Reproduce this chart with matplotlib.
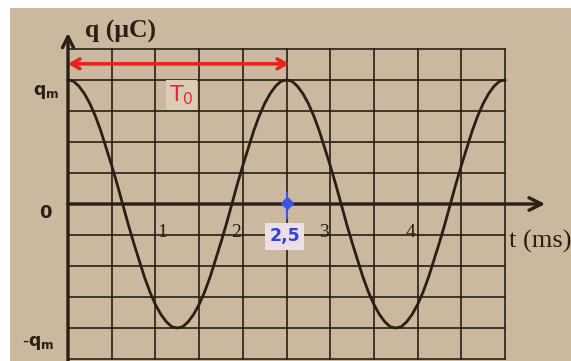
import matplotlib
matplotlib.use("Agg")
import matplotlib.pyplot as plt
from matplotlib.patches import Rectangle

plt.rcParams['mathtext.fontset'] = 'dejavusans'

# ---- data ----
T0 = 2.5            # period (ms)
t_marker = 2.5      # marked instant (ms)
t_grid = [0, 0.5, 1, 1.5, 2, 2.5, 3, 3.5, 4, 4.5, 5]
q_grid = [-1.25, -1.0, -0.75, -0.5, -0.25, 0, 0.25, 0.5, 0.75, 1.0, 1.25]
tick_vals = [1, 2, 3, 4]
tick_labels = ["1", "2", "3", "4"]
t_pts = [i * 0.0625 for i in range(81)]
q_pts = [1.00, 0.99, 0.95, 0.89, 0.81, 0.71, 0.59, 0.45, 0.31, 0.16,
         0.00, -0.16, -0.31, -0.45, -0.59, -0.71, -0.81, -0.89, -0.95, -0.99,
         -1.00, -0.99, -0.95, -0.89, -0.81, -0.71, -0.59, -0.45, -0.31, -0.16,
         0.00, 0.16, 0.31, 0.45, 0.59, 0.71, 0.81, 0.89, 0.95, 0.99,
         1.00, 0.99, 0.95, 0.89, 0.81, 0.71, 0.59, 0.45, 0.31, 0.16,
         0.00, -0.16, -0.31, -0.45, -0.59, -0.71, -0.81, -0.89, -0.95, -0.99,
         -1.00, -0.99, -0.95, -0.89, -0.81, -0.71, -0.59, -0.45, -0.31, -0.16,
         0.00, 0.16, 0.31, 0.45, 0.59, 0.71, 0.81, 0.89, 0.95, 0.99, 1.00]

ink = '#2a1f16'
paper = '#cab99f'

fig = plt.figure(figsize=(5.71, 3.61), dpi=100)
fig.patch.set_facecolor('white')
ax = fig.add_axes([0, 0, 1, 1])
ax.set_xlim(-0.778, 5.755)
ax.set_ylim(-1.266, 1.645)
ax.axis('off')

# paper background
ax.add_patch(Rectangle((-0.664, -1.3), 6.5, 2.88, facecolor=paper,
                       edgecolor='none', zorder=0))

# grid
for tg in t_grid:
    ax.plot([tg, tg], [q_grid[0], q_grid[-1]], color=ink, lw=1.2, zorder=1)
for qg in q_grid:
    ax.plot([t_grid[0], t_grid[-1]], [qg, qg], color=ink, lw=1.2, zorder=1)

# axes with arrows
ax.annotate('', xy=(5.46, 0), xytext=(0, 0),
            arrowprops=dict(arrowstyle='->,head_length=0.9,head_width=0.45',
                            color=ink, lw=2.4, shrinkA=0, shrinkB=0), zorder=2)
ax.annotate('', xy=(0, 1.38), xytext=(0, -1.27),
            arrowprops=dict(arrowstyle='->,head_length=0.8,head_width=0.4',
                            color=ink, lw=2.4, shrinkA=0, shrinkB=0), zorder=2)

# curve
ax.plot(t_pts, q_pts, color=ink, lw=2.0, zorder=3)

# labels
ax.text(0.19, 1.39, 'q (μC)', family='Liberation Serif', fontweight='bold',
        fontsize=18.5, color=ink, ha='left', va='center')
ax.text(-0.25, 0.90, r'$\mathbf{q_m}$', fontsize=12.5, color=ink,
        ha='center', va='center')
ax.text(-0.26, -0.07, '0', fontsize=13, fontweight='bold', color=ink,
        ha='center', va='center')
ax.text(-0.34, -1.12, r'-$\mathbf{q_m}$', fontsize=12.5, color=ink,
        ha='center', va='center')
for tv, tl in zip(tick_vals, tick_labels):
    if tv == 1:
        ax.text(tv + 0.02, -0.23, tl, family='Liberation Serif', fontsize=14,
                color=ink, ha='left', va='center')
    else:
        ax.text(tv - 0.02, -0.23, tl, family='Liberation Serif', fontsize=14,
                color=ink, ha='right', va='center')
ax.text(5.04, -0.30, 't (ms)', family='Liberation Serif', fontsize=19,
        color=ink, ha='left', va='center')

# period arrow
ax.annotate('', xy=(T0 + 0.03, 1.13), xytext=(0, 1.13),
            arrowprops=dict(arrowstyle='<->,head_length=0.6,head_width=0.35',
                            color='#e8231d', lw=2.6, shrinkA=0, shrinkB=0),
            zorder=4)
ax.text(1.30, 0.88, r'T$_0$', fontsize=16, color='#e3283a', ha='center',
        va='center', bbox=dict(boxstyle='square,pad=0.15', facecolor='#ddcbb8',
                               edgecolor='none'), zorder=4)

# blue marker
ax.plot([t_marker, t_marker], [-0.11, 0.09], color='#3b55e6', lw=1.5, zorder=5)
ax.plot([t_marker], [0.01], marker='D', markersize=6, color='#3b55e6', zorder=5)
ax.text(t_marker - 0.02, -0.26, '2,5', fontsize=12.5, fontweight='bold',
        color='#3242d6', ha='center', va='center',
        bbox=dict(boxstyle='square,pad=0.25', facecolor='#ecdfe8',
                  edgecolor='none'), zorder=5)

fig.savefig('out.png', dpi=100, facecolor=fig.get_facecolor())
